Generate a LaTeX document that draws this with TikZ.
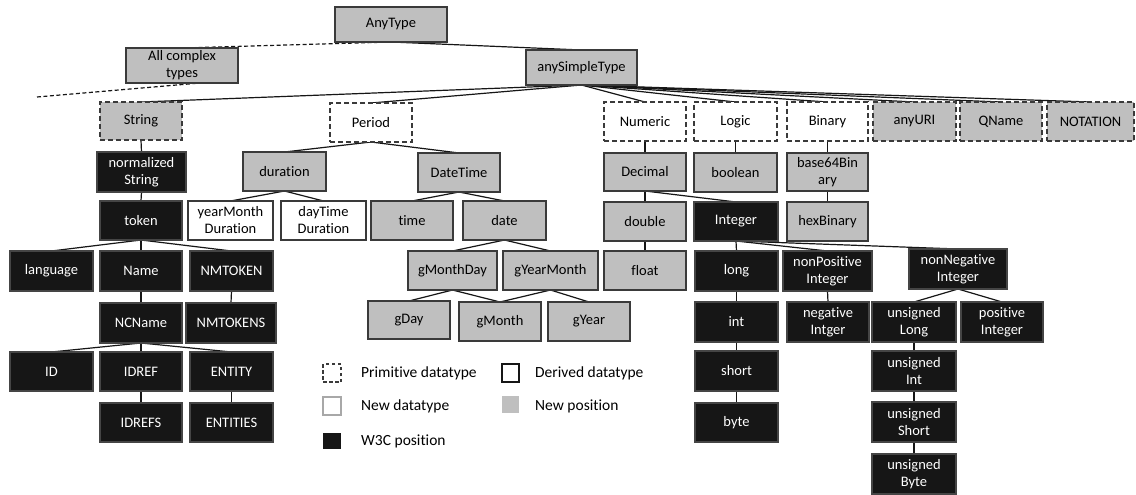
\documentclass[tikz,border=0pt]{standalone}
\usepackage{fontspec}
\setmainfont{Carlito}[Ligatures=NoCommon]
\pgfdeclarelayer{bgfill}
\pgfdeclarelayer{bg}
\pgfsetlayers{bgfill,bg,main}
\definecolor{gfill}{HTML}{BFBFBF}
\definecolor{bfill}{HTML}{161616}
\definecolor{bord}{HTML}{3A3A3A}
\definecolor{lbord}{HTML}{A8A8A8}
\tikzset{
  box/.style={draw=bord, line width=1.2pt, inner sep=0pt, outer sep=0pt, align=center,
    font=\fontsize{14.5}{17}\selectfont},
  gbox/.style={box, fill=gfill},
  wbox/.style={box, fill=white},
  bbox/.style={box, fill=bfill, draw=bfill!80!white, text=white},
  pbox/.style={box, dash pattern=on 5pt off 3pt, fill=white},
  pgbox/.style={box, dash pattern=on 5pt off 3pt, fill=gfill},
  edge/.style={draw=bfill, line width=1.2pt},
  dedge/.style={draw=bfill, line width=1.2pt, dash pattern=on 4pt off 2.5pt},
  legtext/.style={anchor=west, inner sep=0pt, font=\fontsize{15.5}{18}\selectfont},
}
\newcommand\bx[7]{\node[#6, minimum width={(#4-#2)*1pt}, minimum height={(#5-#3)*1pt}] (#1) at ({(#2+#4)/2},{-(#3+#5)/2}) {#7};}
\begin{document}
\begin{tikzpicture}[x=1pt,y=1pt]
\begin{pgfonlayer}{bgfill}
\fill[white] (0,0) rectangle (1136,-495);
\end{pgfonlayer}
\useasboundingbox (0,0) rectangle (1136,-495);
% top
\bx{AnyType}{335}{7}{447}{42}{gbox}{AnyType}
\bx{complex}{126}{48}{238}{83}{gbox}{All complex\\types}
\bx{ast}{526}{50}{637}{85}{gbox}{anySimpleType}
% primitives
\bx{String}{100}{102}{182}{140}{pgbox}{String}
\bx{Period}{330}{103}{412}{142}{pbox}{Period}
\bx{Numeric}{604}{102}{686}{141}{pbox}{Numeric}
\bx{Logic}{694}{102}{777}{141}{pbox}{Logic}
\bx{Binary}{787}{102}{868}{141}{pbox}{Binary}
\bx{anyURI}{873}{102}{956}{141}{pgbox}{anyURI}
\bx{QName}{960}{102}{1042}{141}{pgbox}{QName}
\bx{NOTATION}{1047}{102}{1134}{141}{pgbox}{NOTATION}
% row 2
\bx{normString}{97}{152}{186}{192}{bbox}{normalized\\String}
\bx{duration}{243}{152}{326}{191}{gbox}{duration}
\bx{DateTime}{418}{153}{500}{192}{gbox}{DateTime}
\bx{Decimal}{604}{153}{686}{191}{gbox}{Decimal}
\bx{boolean}{694}{153}{777}{192}{gbox}{boolean}
\bx{base64}{787}{153}{868}{191}{gbox}{base64Bin\\ary}
% row 3
\bx{token}{100}{201}{182}{240}{bbox}{token}
\bx{yearMonth}{188}{201}{273}{240}{wbox}{yearMonth\\Duration}
\bx{dayTime}{281}{201}{366}{240}{wbox}{dayTime\\Duration}
\bx{time}{371}{201}{453}{240}{gbox}{time}
\bx{date}{463}{201}{546}{240}{gbox}{date}
\bx{double}{604}{202}{686}{241}{gbox}{double}
\bx{Integer}{694}{202}{778}{241}{bbox}{Integer}
\bx{hexBinary}{787}{202}{868}{241}{gbox}{hexBinary}
% row 4
\bx{language}{10}{251}{93}{291}{bbox}{language}
\bx{Name}{100}{251}{182}{291}{bbox}{Name}
\bx{NMTOKEN}{190}{251}{273}{291}{bbox}{NMTOKEN}
\bx{gMonthDay}{408}{251}{497}{290}{gbox}{gMonthDay}
\bx{gYearMonth}{503}{251}{598}{290}{gbox}{gYearMonth}
\bx{float}{604}{251}{686}{290}{gbox}{float}
\bx{long}{695}{251}{778}{291}{bbox}{long}
\bx{nonPos}{783}{251}{872}{291}{bbox}{nonPositive\\Integer}
\bx{nonNeg}{909}{249}{1007}{289}{bbox}{nonNegative\\Integer}
% row 5
\bx{NCName}{100}{303}{182}{343}{bbox}{NCName}
\bx{NMTOKENS}{186}{303}{276}{343}{bbox}{NMTOKENS}
\bx{gDay}{368}{301}{450}{339}{gbox}{gDay}
\bx{gMonth}{459}{302}{541}{341}{gbox}{gMonth}
\bx{gYear}{548}{302}{630}{341}{gbox}{gYear}
\bx{int}{695}{302}{778}{342}{bbox}{int}
\bx{negInt}{787}{302}{869}{342}{bbox}{negative\\Intger}
\bx{uLong}{872}{302}{956}{342}{bbox}{unsigned\\Long}
\bx{posInt}{961}{302}{1043}{342}{bbox}{positive\\Integer}
% row 6
\bx{ID}{10}{352}{93}{391}{bbox}{ID}
\bx{IDREF}{100}{352}{182}{391}{bbox}{IDREF}
\bx{ENTITY}{190}{352}{273}{391}{bbox}{ENTITY}
\bx{short}{695}{351}{778}{391}{bbox}{short}
\bx{uInt}{872}{351}{956}{391}{bbox}{unsigned\\Int}
% row 7
\bx{IDREFS}{100}{403}{182}{442}{bbox}{IDREFS}
\bx{ENTITIES}{190}{403}{273}{442}{bbox}{ENTITIES}
\bx{byte}{695}{403}{778}{442}{bbox}{byte}
\bx{uShort}{872}{402}{956}{442}{bbox}{unsigned\\Short}
\bx{uByte}{872}{454}{956}{494}{bbox}{unsigned\\Byte}
% legend
\node[draw=bord, line width=1.1pt, dash pattern=on 3.5pt off 2.5pt, minimum width=18pt, minimum height=18pt, inner sep=0pt] (lgP) at (332,-373) {};
\node[legtext] (lgPt) at (361,-373) {Primitive datatype};
\node[draw=bfill, line width=1.3pt, minimum width=17pt, minimum height=18pt, inner sep=0pt] (lgD) at (510.5,-373) {};
\node[legtext] (lgDt) at (535,-373) {Derived datatype};
\node[draw=lbord, line width=1.1pt, minimum width=18pt, minimum height=18pt, inner sep=0pt] (lgN) at (332,-406) {};
\node[legtext] (lgNt) at (361,-406) {New datatype};
\node[fill=gfill, minimum width=17pt, minimum height=17pt, inner sep=0pt] (lgG) at (510.5,-404.5) {};
\node[legtext] (lgGt) at (535,-406) {New position};
\node[fill=bfill, minimum width=18pt, minimum height=16pt, inner sep=0pt] (lgB) at (332,-441) {};
\node[legtext] (lgBt) at (361,-441) {W3C position};
% edges
\begin{pgfonlayer}{bg}
\coordinate (cfree) at (37,-97);
\draw[dedge] (AnyType.south) -- (complex.north);
\draw[dedge] (cfree) -- ([xshift=18pt]complex.south);
\draw[edge] (AnyType.south) -- (ast.north);
\foreach \c in {String,Period,Numeric,Logic,Binary,anyURI,QName,NOTATION}
  \draw[edge] (ast.south) -- (\c.north);
\foreach \p/\c in {String/normString, normString/token, token/language, token/Name, token/NMTOKEN,
  Name/NCName, NMTOKEN/NMTOKENS, NCName/ID, NCName/IDREF, NCName/ENTITY, IDREF/IDREFS, ENTITY/ENTITIES,
  Period/duration, Period/DateTime, duration/yearMonth, duration/dayTime, DateTime/time, DateTime/date,
  date/gMonthDay, date/gYearMonth, gMonthDay/gDay, gMonthDay/gMonth, gYearMonth/gMonth, gYearMonth/gYear,
  Numeric/Decimal, Decimal/double, Decimal/Integer, double/float, Integer/long, Integer/nonPos, Integer/nonNeg,
  long/int, int/short, short/byte, nonPos/negInt, nonNeg/uLong, nonNeg/posInt, uLong/uInt, uInt/uShort, uShort/uByte,
  Logic/boolean, Binary/base64, base64/hexBinary}
  \draw[edge] (\p.south) -- (\c.north);
\end{pgfonlayer}
\end{tikzpicture}
\end{document}
